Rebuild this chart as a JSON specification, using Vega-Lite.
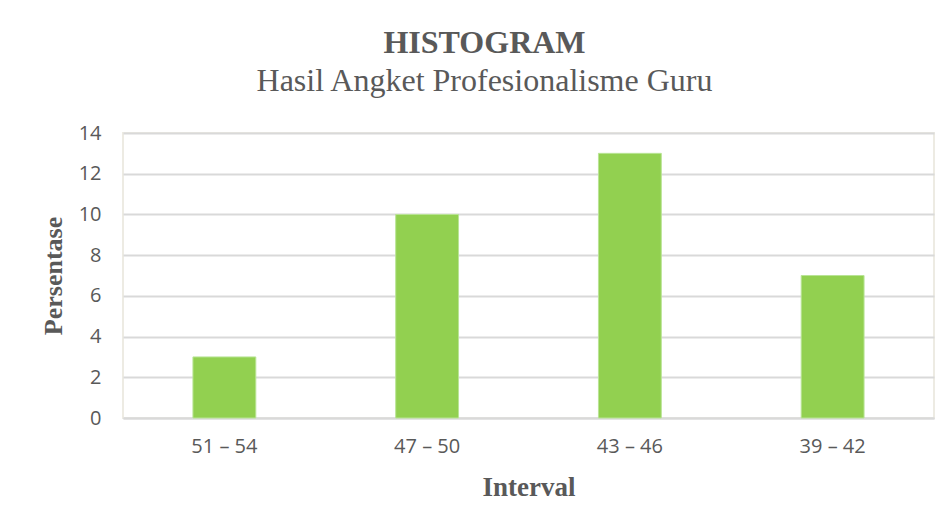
{
  "$schema": "https://vega.github.io/schema/vega-lite/v6.json",
  "autosize": "none",
  "width": 811,
  "height": 285,
  "padding": {"left": 123, "top": 133, "right": 16, "bottom": 113},
  "background": "white",
  "title": {
    "text": "HISTOGRAM",
    "subtitle": "Hasil Angket Profesionalisme Guru",
    "anchor": "middle",
    "frame": "group",
    "dx": -44,
    "offset": 25,
    "font": "Liberation Serif",
    "fontSize": 32,
    "fontWeight": "bold",
    "color": "#595959",
    "subtitleFont": "Liberation Serif",
    "subtitleFontSize": 32,
    "subtitleColor": "#595959",
    "subtitlePadding": 6
  },
  "data": {
    "values": [
      {"interval": "51 – 54", "persentase": 3},
      {"interval": "47 – 50", "persentase": 10},
      {"interval": "43 – 46", "persentase": 13},
      {"interval": "39 – 42", "persentase": 7}
    ]
  },
  "mark": {"type": "bar", "color": "#92D050", "stroke": "#B9E495", "strokeWidth": 1},
  "encoding": {
    "x": {
      "field": "interval",
      "type": "nominal",
      "sort": null,
      "scale": {"paddingInner": 0.69, "paddingOuter": 0.345},
      "axis": {
        "title": "Interval",
        "labelAngle": 0,
        "labelFont": "Open Sans",
        "labelFontSize": 20,
        "labelColor": "#595959",
        "labelPadding": 18,
        "ticks": false,
        "domainColor": "#D9D9D9",
        "domainWidth": 2,
        "titleFont": "Liberation Serif",
        "titleFontSize": 27,
        "titleFontWeight": "bold",
        "titleColor": "#595959",
        "titlePadding": 18
      }
    },
    "y": {
      "field": "persentase",
      "type": "quantitative",
      "scale": {"domain": [0, 14]},
      "axis": {
        "title": "Persentase",
        "values": [0, 2, 4, 6, 8, 10, 12, 14],
        "labelFont": "Open Sans",
        "labelFontSize": 20,
        "labelColor": "#595959",
        "labelPadding": 22,
        "ticks": false,
        "domain": false,
        "gridColor": "#D9D9D9",
        "gridWidth": 2,
        "titleFont": "Liberation Serif",
        "titleFontSize": 26,
        "titleFontWeight": "bold",
        "titleColor": "#595959",
        "titlePadding": 12
      }
    }
  },
  "config": {
    "view": {"stroke": "#EDEBE3", "strokeWidth": 2}
  }
}
